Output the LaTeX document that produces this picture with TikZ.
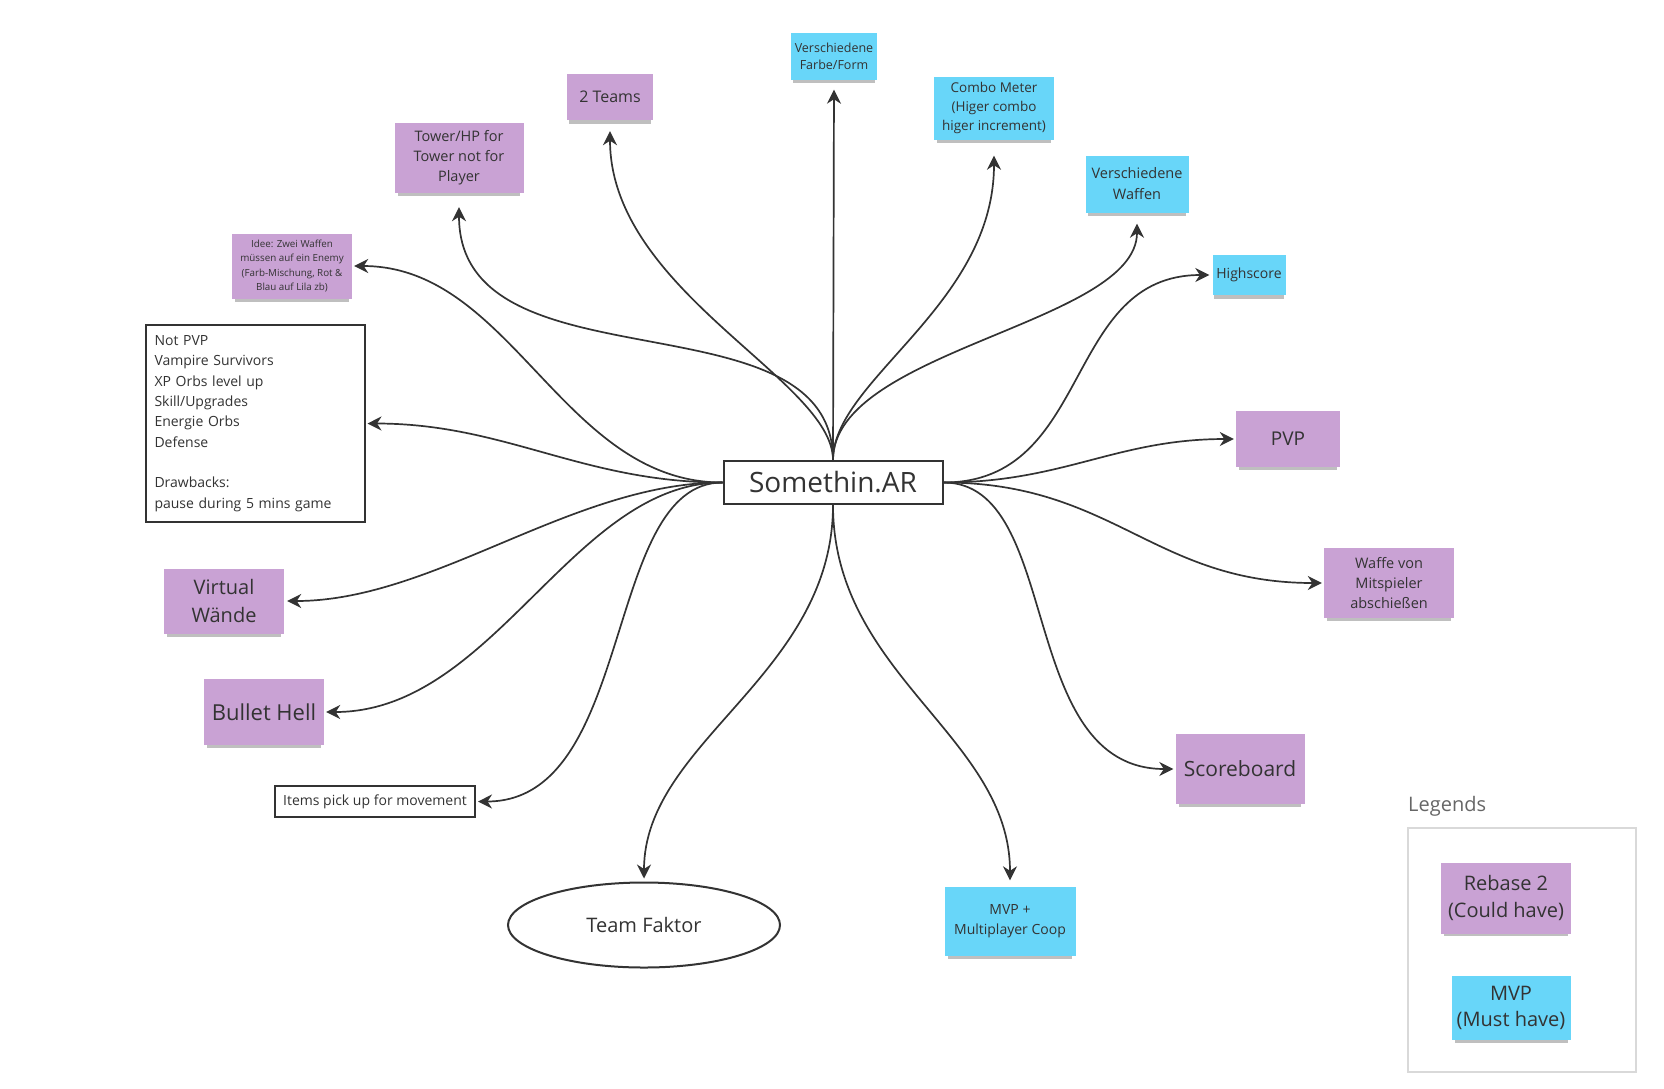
\documentclass[tikz,border=0pt]{standalone}
\usepackage{fontspec}
\setmainfont{Open Sans}
\usetikzlibrary{shapes.geometric,arrows.meta,shadows}

\definecolor{notepurple}{RGB}{201,162,212}
\definecolor{noteblue}{RGB}{104,214,249}
\definecolor{inkgray}{RGB}{51,51,51}
\newcommand{\sz}[2]{\fontsize{#1}{#2}\selectfont}

\begin{document}
\begin{tikzpicture}[x=1pt, y=1pt,
    sticky/.style={rectangle, inner sep=2pt, align=center, text=inkgray,
        drop shadow={shadow xshift=0pt, shadow yshift=-5pt, shadow scale=0.95, opacity=0.25, fill=black}},
    couldnote/.style={sticky, fill=notepurple},
    mustnote/.style={sticky, fill=noteblue},
    plainbox/.style={rectangle, draw=inkgray, line width=2pt, fill=white, text=inkgray},
    link/.style={draw=inkgray, line width=1.7pt, -{Stealth[length=14pt,width=14pt,inset=4.5pt]}}]
    \useasboundingbox (0,0) rectangle (1664,-1088);

    % hub
    \node (core) [plainbox, minimum width=219pt, minimum height=43pt, font=\sz{28}{34}] at (833,-482.5) {Somethin.AR};

    % top
    \node (farbe) [mustnote, minimum width=86pt, minimum height=47pt, font=\sz{12.5}{17}] at (834,-56) {Verschiedene\\Farbe/Form};
    \node (combo) [mustnote, minimum width=120pt, minimum height=63pt, font=\sz{13.5}{18.6}] at (994,-108) {Combo Meter\\(Higer combo\\higer increment)};
    \node (teams) [couldnote, minimum width=86pt, minimum height=46pt, font=\sz{16}{20}] at (610,-97) {2 Teams};
    \node (tower) [couldnote, minimum width=129pt, minimum height=70pt, font=\sz{14.5}{20}] at (459,-158) {Tower/HP for\\Tower not for\\Player};
    \node (waffen) [mustnote, minimum width=103pt, minimum height=57pt, font=\sz{14.5}{21}] at (1137,-184) {Verschiedene\\Waffen};

    % left
    \node (idee) [couldnote, minimum width=120pt, minimum height=65pt, font=\sz{9.8}{14.1}] at (292,-266) {Idee: Zwei Waffen\\müssen auf ein Enemy\\(Farb-Mischung, Rot \&\\Blau auf Lila zb)};
    \node (notpvp) [plainbox, minimum width=219pt, minimum height=197pt, text width=201pt, align=left, inner sep=9pt, font=\sz{14}{20.3}] at (255,-423.5) {Not PVP\\Vampire Survivors\\XP Orbs level up\\Skill/Upgrades\\Energie Orbs\\Defense\\[20.3pt]Drawbacks:\\pause during 5 mins game};
    \node (virtual) [couldnote, minimum width=120pt, minimum height=65pt, font=\sz{20}{27.5}] at (224,-601) {Virtual\\Wände};
    \node (bullet) [couldnote, minimum width=120pt, minimum height=66pt, font=\sz{22}{27}] at (264,-712) {Bullet Hell};
    \node (items) [plainbox, minimum width=200pt, minimum height=31pt, inner sep=2pt, font=\sz{14}{18}] at (375,-801.5) {Items pick up for movement};

    % right
    \node (highscore) [mustnote, minimum width=73pt, minimum height=40pt, font=\sz{14}{18}] at (1249,-275) {Highscore};
    \node (pvp) [couldnote, minimum width=104pt, minimum height=56pt, font=\sz{19}{24}] at (1288,-439) {PVP};
    \node (waffevon) [couldnote, minimum width=130pt, minimum height=70pt, font=\sz{14.5}{20}] at (1389,-583) {Waffe von\\Mitspieler\\abschießen};
    \node (score) [couldnote, minimum width=129pt, minimum height=70pt, font=\sz{21}{26}] at (1240,-769) {Scoreboard};

    % bottom
    \node (faktor) [ellipse, draw=inkgray, line width=2pt, fill=white, text=inkgray, inner sep=0pt, minimum width=272pt, minimum height=85pt, font=\sz{20}{24}] at (644,-925) {Team Faktor};
    \node (mvpcoop) [mustnote, minimum width=131pt, minimum height=69pt, font=\sz{14}{20}] at (1010,-921) {MVP +\\Multiplayer Coop};

    % legend
    \node (legendtitle) [anchor=west, inner sep=0pt, text=black!60, font=\sz{20}{24}] at (1408,-806) {Legends};
    \node (legendbox) [rectangle, draw=black!15, line width=1.2pt, minimum width=228pt, minimum height=244pt] at (1522,-950) {};
    \node (rebase) [couldnote, minimum width=130pt, minimum height=71pt, font=\sz{20}{26.5}] at (1506,-898) {Rebase 2\\(Could have)};
    \node (mvp) [mustnote, minimum width=119pt, minimum height=64pt, font=\sz{20}{26.5}] at (1511,-1008) {MVP\\(Must have)};

    % connectors
    \draw[link, shorten >=10pt] (core.north) -- (farbe.south);
    \draw[link, shorten >=11pt] (core.north) .. controls +(0,80) and +(0,-171) .. (teams.south);
    \draw[link, shorten >=14pt] (core.north) .. controls +(0,170) and +(0,-200) .. (tower.south);
    \draw[link, shorten >=16pt] (core.north) .. controls +(0,80) and +(0,-166) .. (combo.south);
    \draw[link, shorten >=11pt] (core.north) .. controls +(0,110) and +(0,-111) .. (waffen.south);

    \draw[link, shorten >=2pt] (core.west) .. controls +(-160,0) and +(160,0) .. (idee.east);
    \draw[link, shorten >=2pt] (core.west) .. controls +(-140,0) and +(140,0) .. (notpvp.east);
    \draw[link, shorten >=3pt] (core.west) .. controls +(-150,0) and +(150,0) .. (virtual.east);
    \draw[link, shorten >=2pt] (core.west) .. controls +(-150,0) and +(170,0) .. (bullet.east);
    \draw[link, shorten >=2pt] (core.west) .. controls +(-120,0) and +(160,0) .. (items.east);

    \draw[link, shorten >=3pt] (core.east) .. controls +(150,0) and +(-150,0) .. (highscore.west);
    \draw[link, shorten >=2pt] (core.east) .. controls +(120,0) and +(-120,0) .. (pvp.west);
    \draw[link, shorten >=2pt] (core.east) .. controls +(170,0) and +(-170,0) .. (waffevon.west);
    \draw[link, shorten >=2pt] (core.east) .. controls +(120,0) and +(-160,0) .. (score.west);

    \draw[link, shorten >=3pt] (core.south) .. controls +(0,-170) and +(0,140) .. (faktor.north);
    \draw[link, shorten >=6pt] (core.south) .. controls +(0,-170) and +(0,150) .. (mvpcoop.north);
\end{tikzpicture}
\end{document}
